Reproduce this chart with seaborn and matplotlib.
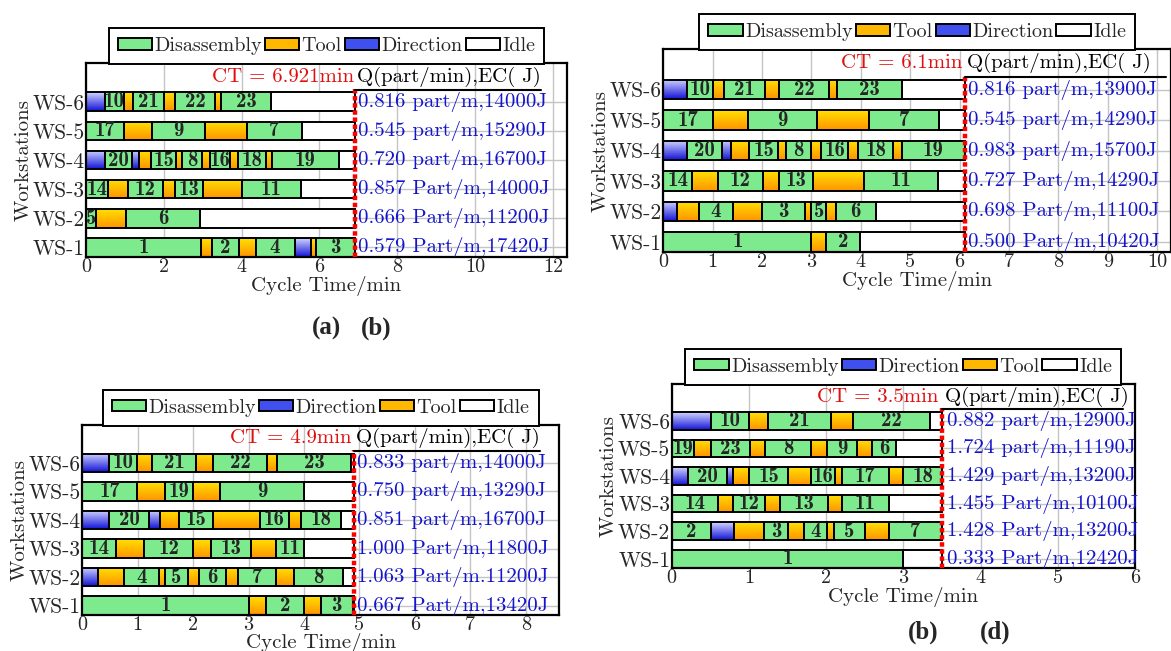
import numpy as np
import pandas as pd
import matplotlib
matplotlib.use("Agg")
import matplotlib.pyplot as plt
from matplotlib.colors import LinearSegmentedColormap
from matplotlib.patches import Patch
import seaborn as sns

# ---------------- data ----------------
stations = ["WS-1", "WS-2", "WS-3", "WS-4", "WS-5", "WS-6"]
header = "Q(part/min),EC( J)"

# segments per workstation: (kind, end time, part no.)  D=Disassembly T=Tool R=Direction
# panel (a)
a_ct = 6.921
a_segs = [
    [("D", 2.95, "1"), ("T", 3.25, ""), ("D", 3.93, "2"), ("T", 4.36, ""), ("D", 5.36, "4"),
     ("R", 5.78, ""), ("T", 5.90, ""), ("D", 6.921, "3")],
    [("D", 0.27, "5"), ("T", 1.04, ""), ("D", 2.92, "6")],
    [("D", 0.57, "14"), ("T", 1.07, ""), ("D", 1.98, "12"), ("T", 2.30, ""), ("D", 3.00, "13"),
     ("T", 4.00, ""), ("D", 5.52, "11")],
    [("R", 0.49, ""), ("D", 1.19, "20"), ("R", 1.37, ""), ("T", 1.68, ""), ("D", 2.31, "15"),
     ("T", 2.48, ""), ("D", 2.97, "8"), ("T", 3.18, ""), ("D", 3.69, "16"), ("T", 3.91, ""),
     ("D", 4.62, "18"), ("T", 4.79, ""), ("D", 6.49, "19")],
    [("D", 0.97, "17"), ("T", 1.70, ""), ("D", 3.05, "9"), ("T", 4.14, ""), ("D", 5.54, "7")],
    [("R", 0.49, ""), ("D", 0.97, "10"), ("T", 1.21, ""), ("D", 2.00, "21"), ("T", 2.30, ""),
     ("D", 3.31, "22"), ("T", 3.48, ""), ("D", 4.76, "23")],
]
a_out = ["0.579 Part/m,17420J", "0.666 Part/m,11200J", "0.857 Part/m,14000J",
         "0.720 part/m,16700J", "0.545 part/m,15290J", "0.816 part/m,14000J"]

# panel (b)
b_ct = 6.1
b_segs = [
    [("D", 3.00, "1"), ("T", 3.30, ""), ("D", 3.99, "2")],
    [("R", 0.28, ""), ("T", 0.72, ""), ("D", 1.42, "4"), ("T", 2.00, ""), ("D", 2.87, "3"),
     ("T", 3.00, ""), ("D", 3.30, "5"), ("T", 3.49, ""), ("D", 4.30, "6")],
    [("D", 0.59, "14"), ("T", 1.10, ""), ("D", 2.02, "12"), ("T", 2.34, ""), ("D", 3.03, "13"),
     ("T", 4.06, ""), ("D", 5.57, "11")],
    [("R", 0.49, ""), ("D", 1.18, "20"), ("R", 1.38, ""), ("T", 1.74, ""), ("D", 2.33, "15"),
     ("T", 2.48, ""), ("D", 3.00, "8"), ("T", 3.20, ""), ("D", 3.74, "16"), ("T", 3.94, ""),
     ("D", 4.66, "18"), ("T", 4.84, ""), ("D", 6.10, "19")],
    [("D", 1.00, "17"), ("T", 1.71, ""), ("D", 3.12, "9"), ("T", 4.17, ""), ("D", 5.59, "7")],
    [("R", 0.49, ""), ("D", 1.00, "10"), ("T", 1.23, ""), ("D", 2.06, "21"), ("T", 2.35, ""),
     ("D", 3.36, "22"), ("T", 3.52, ""), ("D", 4.84, "23")],
]
b_out = ["0.500 Part/m,10420J", "0.698 Part/m,11100J", "0.727 Part/m,14290J",
         "0.983 part/m,15700J", "0.545 part/m,14290J", "0.816 part/m,13900J"]

# panel (c)
c_ct = 4.9
c_segs = [
    [("D", 3.01, "1"), ("T", 3.31, ""), ("D", 4.00, "2"), ("T", 4.30, ""), ("D", 4.88, "3")],
    [("R", 0.29, ""), ("T", 0.75, ""), ("D", 1.39, "4"), ("T", 1.49, ""), ("D", 1.91, "5"),
     ("T", 2.10, ""), ("D", 2.60, "6"), ("T", 2.80, ""), ("D", 3.49, "7"), ("T", 3.81, ""),
     ("D", 4.70, "8")],
    [("D", 0.60, "14"), ("T", 1.11, ""), ("D", 2.00, "12"), ("T", 2.33, ""), ("D", 3.05, "13"),
     ("T", 3.49, ""), ("D", 4.00, "11")],
    [("R", 0.49, ""), ("D", 1.21, "20"), ("R", 1.40, ""), ("T", 1.74, ""), ("D", 2.35, "15"),
     ("T", 3.20, ""), ("D", 3.72, "16"), ("T", 3.94, ""), ("D", 4.67, "18")],
    [("D", 0.99, "17"), ("T", 1.50, ""), ("D", 2.00, "19"), ("T", 2.48, ""), ("D", 4.00, "9")],
    [("R", 0.49, ""), ("D", 0.99, "10"), ("T", 1.26, ""), ("D", 2.05, "21"), ("T", 2.35, ""),
     ("D", 3.34, "22"), ("T", 3.52, ""), ("D", 4.84, "23")],
]
c_out = ["0.667 Part/m,13420J", "1.063 Part/m.11200J", "1.000 Part/m,11800J",
         "0.851 part/m,16700J", "0.750 part/m,13290J", "0.833 part/m,14000J"]

# panel (d)
d_ct = 3.5
d_segs = [
    [("D", 3.00, "1")],
    [("D", 0.51, "2"), ("R", 0.81, ""), ("T", 1.20, ""), ("D", 1.51, "3"), ("T", 1.71, ""),
     ("D", 2.01, "4"), ("T", 2.10, ""), ("D", 2.50, "5"), ("T", 2.81, ""), ("D", 3.50, "7")],
    [("D", 0.60, "14"), ("T", 0.79, ""), ("D", 1.21, "12"), ("T", 1.40, ""), ("D", 2.02, "13"),
     ("T", 2.20, ""), ("D", 2.81, "11")],
    [("R", 0.21, ""), ("D", 0.71, "20"), ("R", 0.80, ""), ("T", 1.00, ""), ("D", 1.51, "15"),
     ("T", 1.81, ""), ("D", 2.11, "16"), ("T", 2.20, ""), ("D", 2.82, "17"), ("T", 3.00, ""),
     ("D", 3.50, "18")],
    [("D", 0.29, "19"), ("T", 0.51, ""), ("D", 1.02, "23"), ("T", 1.21, ""), ("D", 1.80, "8"),
     ("T", 2.01, ""), ("D", 2.40, "9"), ("T", 2.60, ""), ("D", 2.90, "6")],
    [("R", 0.51, ""), ("D", 1.00, "10"), ("T", 1.25, ""), ("D", 2.06, "21"), ("T", 2.35, ""),
     ("D", 3.35, "22")],
]
d_out = ["0.333 Part/m,12420J", "1.428 Part/m,13200J", "1.455 Part/m,10100J",
         "1.429 part/m,13200J", "1.724 part/m,11190J", "0.882 part/m,12900J"]

legend_ab = ["D", "T", "R", "I"]
legend_cd = ["D", "R", "T", "I"]

# ---------------- style ----------------
sns.set_theme(style="whitegrid")
plt.rcParams["font.family"] = ["cmr10", "DejaVu Serif"]
plt.rcParams["mathtext.fontset"] = "cm"
plt.rcParams["axes.formatter.use_mathtext"] = True

names = {"D": "Disassembly", "T": "Tool", "R": "Direction", "I": "Idle"}
colors = {"D": "#7DEB8D", "T": "#FFB800", "R": "#4050EE", "I": "white"}
grad = {
    "T": LinearSegmentedColormap.from_list("tool", ["#FF9400", "#FFE000"]),
    "R": LinearSegmentedColormap.from_list("dirc", ["#1414D8", "#D0D4FF"]),
}
BAR_H = 0.64
YLIM = (0.67, 7.33)


def build_frame(segs, ct):
    rows = []
    for i, st in enumerate(segs):
        start = 0.0
        for kind, end, lab in st:
            rows.append(dict(y=i + 1, kind=kind, start=start, width=end - start, label=lab))
            start = end
        if ct - start > 0.005:
            rows.append(dict(y=i + 1, kind="I", start=start, width=ct - start, label=""))
    return pd.DataFrame(rows)


def draw_panel(ax, segs, ct, outs, order, xmax, step, uline_end, xlpad=0):
    df = build_frame(segs, ct)
    for kind in ["D", "T", "R", "I"]:
        sub = df[df.kind == kind]
        bars = ax.barh(sub.y, sub.width, left=sub.start, height=BAR_H,
                       color=colors[kind], edgecolor="none", zorder=2)
        if kind in grad:
            g = np.linspace(0, 1, 64).reshape(-1, 1)
            for p in bars.patches:
                x0, y0 = p.get_x(), p.get_y()
                im = ax.imshow(g, cmap=grad[kind], origin="lower", aspect="auto",
                               extent=[x0, x0 + p.get_width(), y0, y0 + p.get_height()],
                               zorder=2.5, interpolation="bilinear")
                im.set_clip_path(p)
    ax.barh(df.y, df.width, left=df.start, height=BAR_H, fill=False,
            edgecolor="black", linewidth=1.4, zorder=3)
    for _, r in df[df.label != ""].iterrows():
        ax.text(r.start + r.width / 2, r.y, r.label, ha="center", va="center",
                fontfamily="cmb10", fontsize=15, zorder=5)

    ax.set_xlim(0, xmax)
    ax.set_ylim(*YLIM)
    ax.set_xticks(np.arange(0, xmax + 0.01, step))
    ax.set_xticklabels([f"{int(v)}" for v in np.arange(0, xmax + 0.01, step)])
    ax.set_yticks(range(1, 7))
    ax.set_yticklabels(stations)
    ax.tick_params(axis="x", length=0, labelsize=14.5, pad=1)
    ax.tick_params(axis="y", length=0, labelsize=15.5, pad=1)
    ax.grid(True, color="#c4c4c4", linewidth=1.0)
    ax.set_axisbelow(True)
    for s in ax.spines.values():
        s.set_color("black")
        s.set_linewidth(1.6)
    ax.set_xlabel("Cycle Time/min", fontsize=15, labelpad=xlpad)
    ax.set_ylabel("Workstations", fontsize=15, labelpad=0)

    ax.plot([ct, ct], [YLIM[0], 6.45], color="red", linewidth=3.2,
            linestyle=(0, (1.0, 0.6)), zorder=6)
    ax.text(ct - 0.04, 6.86, f"CT = {ct}min", color="#E01010", ha="right", va="center",
            fontsize=15, zorder=6)
    ax.text(ct + 0.04, 6.86, header, color="black", ha="left", va="center", fontsize=15, zorder=6)
    ax.plot([ct, uline_end], [6.42, 6.42], color="black", linewidth=1.5, zorder=6)
    for i, t in enumerate(outs):
        ax.text(ct + 0.06, i + 1, t, color="#1414CC", ha="left", va="center", fontsize=15, zorder=6)

    handles = [Patch(facecolor=colors[k], edgecolor="black", linewidth=1.4) for k in order]
    leg = ax.legend(handles, [names[k] for k in order], loc="lower center",
                    bbox_to_anchor=(0.5, 0.995), ncol=4, fontsize=14.5, frameon=True,
                    fancybox=False, framealpha=1, edgecolor="black", borderaxespad=0,
                    handlelength=1.7, handleheight=0.5, handletextpad=0.12,
                    columnspacing=0.15, borderpad=0.45)
    leg.get_frame().set_linewidth(1.4)


fig = plt.figure(figsize=(11.71, 6.51), dpi=100)
ax_a = fig.add_axes([0.0734, 0.6052, 0.4108, 0.2980])
ax_b = fig.add_axes([0.5664, 0.6129, 0.4336, 0.3118])
ax_c = fig.add_axes([0.0703, 0.0553, 0.4071, 0.2919])
ax_d = fig.add_axes([0.5736, 0.1275, 0.3956, 0.2826])

draw_panel(ax_a, a_segs, a_ct, a_out, legend_ab, 12.36, 2, 11.7)
draw_panel(ax_b, b_segs, b_ct, b_out, legend_ab, 10.28, 1, 10.17)
draw_panel(ax_c, c_segs, c_ct, c_out, legend_cd, 8.6, 1, 8.26, xlpad=-1)
draw_panel(ax_d, d_segs, d_ct, d_out, legend_cd, 6.0, 1, 5.85)

lab_font = dict(fontfamily=["Liberation Serif", "DejaVu Serif"], fontweight="bold", fontsize=18,
                ha="center", va="center")
fig.text(0.279, 0.496, "(a)", **lab_font)
fig.text(0.3215, 0.496, "(b)", **lab_font)
fig.text(0.788, 0.029, "(b)", **lab_font)
fig.text(0.850, 0.029, "(d)", **lab_font)

fig.savefig("out.png", dpi=100)
